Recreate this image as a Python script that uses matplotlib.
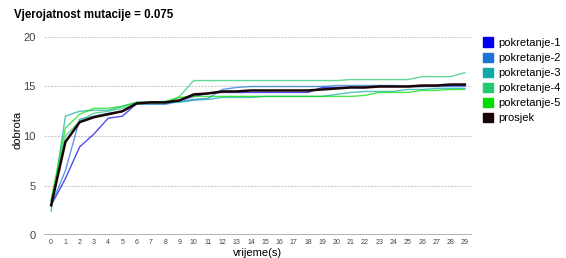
import matplotlib
matplotlib.use('Agg')
import matplotlib.pyplot as plt
from matplotlib.patches import Patch
import numpy as np

plt.rcParams['font.family'] = ['Liberation Sans', 'DejaVu Sans']

vrijeme = list(range(30))

pokretanje_1 = [3.0, 5.7, 8.9, 10.2, 11.8, 12.0, 13.3, 13.3, 13.3, 13.6, 14.0, 14.3, 14.4, 14.4, 14.4,
                14.4, 14.4, 14.4, 14.4, 14.9, 14.9, 14.9, 14.9, 15.0, 15.0, 15.0, 15.0, 15.1, 15.1, 15.1]
pokretanje_2 = [3.0, 6.5, 11.7, 12.0, 12.3, 12.5, 13.2, 13.2, 13.2, 13.5, 13.7, 13.8, 14.7, 14.9, 15.0,
                15.0, 15.0, 15.0, 15.0, 15.0, 15.1, 15.1, 15.1, 15.1, 15.1, 15.0, 15.0, 15.0, 15.0, 15.0]
pokretanje_3 = [2.4, 12.0, 12.5, 12.6, 12.6, 13.0, 13.4, 13.4, 13.4, 13.4, 13.6, 13.7, 13.9, 13.9, 13.9,
                14.0, 14.0, 14.0, 14.0, 14.0, 14.2, 14.4, 14.5, 14.5, 14.5, 14.7, 14.7, 14.8, 14.8, 14.8]
pokretanje_4 = [3.5, 10.0, 11.5, 12.3, 12.5, 12.8, 13.2, 13.3, 13.3, 14.0, 15.6, 15.6, 15.6, 15.6, 15.6,
                15.6, 15.6, 15.6, 15.6, 15.6, 15.6, 15.7, 15.7, 15.7, 15.7, 15.7, 16.0, 16.0, 16.0, 16.4]
pokretanje_5 = [3.5, 10.8, 12.2, 12.8, 12.8, 13.0, 13.4, 13.4, 13.5, 13.9, 14.0, 14.0, 14.0, 14.0, 14.0,
                14.0, 14.0, 14.0, 14.0, 14.0, 14.0, 14.0, 14.1, 14.4, 14.4, 14.4, 14.6, 14.6, 14.7, 14.7]
prosjek = [3.0, 9.4, 11.4, 11.9, 12.2, 12.5, 13.3, 13.4, 13.4, 13.6, 14.2, 14.3, 14.5, 14.5, 14.6,
           14.6, 14.6, 14.6, 14.6, 14.7, 14.8, 14.9, 14.9, 15.0, 15.0, 15.0, 15.1, 15.1, 15.2, 15.2]

serije = [
    ('pokretanje-1', pokretanje_1, '#0000ee'),
    ('pokretanje-2', pokretanje_2, '#1a73d6'),
    ('pokretanje-3', pokretanje_3, '#10a8a8'),
    ('pokretanje-4', pokretanje_4, '#20c870'),
    ('pokretanje-5', pokretanje_5, '#00dd00'),
]

fig = plt.figure(figsize=(5.66, 2.58), dpi=100)
ax = fig.add_axes([44 / 566, 23 / 258, 428 / 566, 198 / 258])

for naziv, vals, boja in serije:
    ax.plot(vrijeme, vals, color=boja, lw=1.0, alpha=0.7, zorder=2)
ax.plot(vrijeme, prosjek, color='#1a0505', lw=1.8, zorder=3)

ax.set_xlim(-0.5, 29.5)
ax.set_ylim(0, 20)
ax.set_yticks([0, 5, 10, 15, 20])
ax.set_xticks(vrijeme)
ax.set_xticklabels([str(v) for v in vrijeme], fontsize=5, color='#444444')
ax.tick_params(axis='y', labelsize=8, colors='#444444', length=0, pad=6)
ax.tick_params(axis='x', length=0, pad=3)
for s in ax.spines.values():
    s.set_visible(False)
ax.grid(axis='y', color='#cccccc', lw=0.8, ls=(0, (2, 1)))
ax.axhline(0, color='#b0a8a8', lw=2, zorder=1)

ax.set_xlabel('vrijeme(s)', fontsize=8, va='center')
ax.xaxis.set_label_coords(0.5, -17.5 / 198)
ax.set_ylabel('dobrota', fontsize=8, va='center')
ax.yaxis.set_label_coords(-27 / 428, 0.53)

fig.text(14 / 566, 1 - 15 / 258, 'Vjerojatnost mutacije = 0.075', fontsize=8.3,
         fontweight='bold', va='center', ha='left')

handles = [Patch(color=b) for _, _, b in serije] + [Patch(color='#1a0505')]
labels = [n for n, _, _ in serije] + ['prosjek']
fig.legend(handles, labels, loc='upper left', bbox_to_anchor=(479 / 566, 1 - 33 / 258),
           frameon=False, fontsize=8, handlelength=0.9, handleheight=0.9,
           handletextpad=0.4, labelspacing=0.42, borderaxespad=0)

fig.savefig('out.png', dpi=100)
